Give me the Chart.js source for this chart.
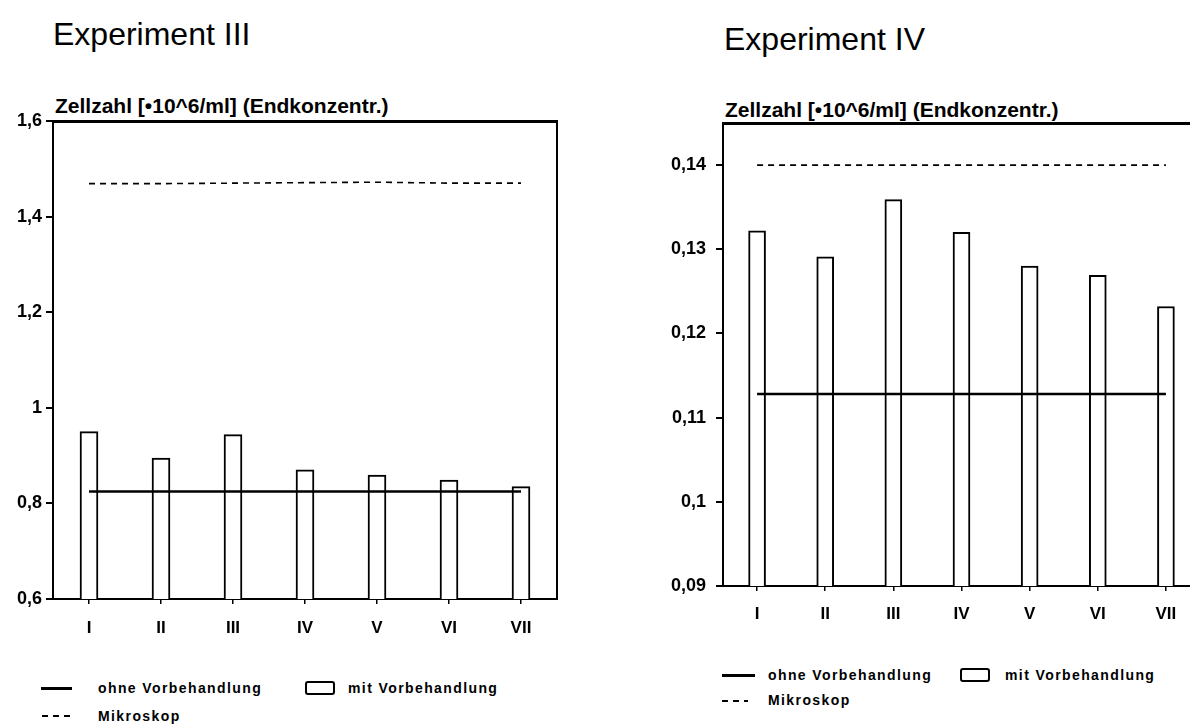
<!DOCTYPE html>
<html>
<head>
<meta charset="utf-8">
<title>Zellzahl – Experiment III und IV</title>
<script src="https://cdn.jsdelivr.net/npm/chart.js@4.4.1/dist/chart.umd.min.js"></script>
<style>
  html, body { margin: 0; padding: 0; background: #fff; overflow: hidden; width: 1190px; height: 724px; }
  body { position: relative; font-family: "Liberation Sans", Arial, Helvetica, sans-serif; color: #000; }
  .t { position: absolute; white-space: nowrap; line-height: 1; }
  .title { font-size: 32px; font-weight: normal; }
  .ytitle { font-size: 21px; font-weight: bold; }
  .leg { font-size: 14px; font-weight: bold; letter-spacing: 1.4px; }
  .plot { position: absolute; }
  .s-line { position: absolute; height: 0; border-top: 3px solid #000; }
  .s-box { position: absolute; box-sizing: border-box; border: 2px solid #000; border-radius: 3px; }
  .s-dash { position: absolute; height: 2px;
            background: repeating-linear-gradient(90deg, #000 0 6px, transparent 6px 11px); }
</style>
</head>
<body>

<!-- Experiment III -->
<div class="t title" style="left:53px; top:18px;">Experiment III</div>
<div class="t ytitle" style="left:55px; top:95px;">Zellzahl [•10^6/ml] (Endkonzentr.)</div>
<div class="plot" style="left:0px; top:0px; width:600px; height:650px;"><canvas id="exp3"></canvas></div>

<div class="s-line" style="left:41px; top:687px; width:31px;"></div>
<div class="t leg" style="left:98px; top:681px;">ohne Vorbehandlung</div>
<div class="s-box" style="left:305px; top:681px; width:30px; height:14px;"></div>
<div class="t leg" style="left:348px; top:681px;">mit Vorbehandlung</div>
<div class="s-dash" style="left:42px; top:715px; width:30px;"></div>
<div class="t leg" style="left:98px; top:709px;">Mikroskop</div>

<!-- Experiment IV -->
<div class="t title" style="left:724px; top:23px;">Experiment IV</div>
<div class="t ytitle" style="left:725px; top:99px;">Zellzahl [•10^6/ml] (Endkonzentr.)</div>
<div class="plot" style="left:600px; top:0px; width:600px; height:650px;"><canvas id="exp4"></canvas></div>

<div class="s-line" style="left:722px; top:674px; width:33px;"></div>
<div class="t leg" style="left:768px; top:668px;">ohne Vorbehandlung</div>
<div class="s-box" style="left:960px; top:668px; width:30px; height:14px;"></div>
<div class="t leg" style="left:1005px; top:668px;">mit Vorbehandlung</div>
<div class="s-dash" style="left:722px; top:700px; width:26px;"></div>
<div class="t leg" style="left:768px; top:693px;">Mikroskop</div>

<script>
// Kategorien (Versuchsansätze)
const categories = ['I', 'II', 'III', 'IV', 'V', 'VI', 'VII'];

// Experiment III – Zellzahl [10^6/ml]
const exp3MitVorbehandlung  = [0.950, 0.895, 0.944, 0.870, 0.859, 0.849, 0.835];
const exp3OhneVorbehandlung = [0.825, 0.825, 0.825, 0.825, 0.825, 0.825, 0.825];
const exp3Mikroskop         = [1.469, 1.469, 1.470, 1.471, 1.472, 1.470, 1.470];
const exp3TickValues = [0.6, 0.8, 1.0, 1.2, 1.4, 1.6];
const exp3TickLabels = ['0,6', '0,8', '1', '1,2', '1,4', '1,6'];

// Experiment IV – Zellzahl [10^6/ml]
const exp4MitVorbehandlung  = [0.1322, 0.1291, 0.1359, 0.1320, 0.1280, 0.1269, 0.1232];
const exp4OhneVorbehandlung = [0.1128, 0.1128, 0.1128, 0.1128, 0.1128, 0.1128, 0.1128];
const exp4Mikroskop         = [0.1400, 0.1400, 0.1400, 0.1400, 0.1400, 0.1400, 0.1400];
const exp4TickValues = [0.09, 0.10, 0.11, 0.12, 0.13, 0.14];
const exp4TickLabels = ['0,09', '0,1', '0,11', '0,12', '0,13', '0,14'];

const INK = '#000';
const tickFont = { family: '"Liberation Sans", Arial, sans-serif', size: 18, weight: 'bold' };
const catFont  = { family: '"Liberation Sans", Arial, sans-serif', size: 17, weight: 'bold' };

function buildChart(id, o) {
  const ctx = document.getElementById(id).getContext('2d');
  const scales = {
    x: {
      type: 'category',
      position: 'bottom',
      offset: true,
      grid: { display: true, drawOnChartArea: false, drawTicks: true, tickLength: 5, lineWidth: 1.5, color: INK, offset: false },
      border: { display: true, width: 2, color: INK },
      ticks: { color: INK, font: catFont, padding: o.xPad, maxRotation: 0, autoSkip: false },
      afterFit: s => { s.height = o.xHeight; }
    },
    y: {
      type: 'linear',
      position: 'left',
      min: o.min,
      max: o.max,
      grid: { display: true, drawOnChartArea: false, drawTicks: true, tickLength: 7, lineWidth: 2, color: INK },
      border: { display: true, width: 2, color: INK },
      ticks: { color: INK, font: tickFont, padding: o.yPad, callback: (v, i) => o.tickLabels[i] },
      afterBuildTicks: s => { s.ticks = o.tickValues.map(v => ({ value: v })); },
      afterFit: s => { s.width = o.yWidth; }
    },
    xTop: {
      type: 'category',
      position: 'top',
      offset: true,
      grid: { display: false },
      ticks: { display: false },
      border: { display: true, width: 3, color: INK },
      afterFit: s => { s.height = 0; }
    }
  };
  if (o.rightFrame) {
    scales.yRight = {
      type: 'linear',
      position: 'right',
      min: o.min,
      max: o.max,
      grid: { display: false },
      ticks: { display: false },
      border: { display: true, width: 2, color: INK },
      afterFit: s => { s.width = 0; }
    };
  }

  return new Chart(ctx, {
    type: 'bar',
    data: {
      labels: categories,
      datasets: [
        {
          type: 'bar',
          label: 'mit Vorbehandlung',
          data: o.mit,
          backgroundColor: '#fff',
          borderColor: INK,
          borderWidth: 2,
          barThickness: o.barThickness,
          order: 3
        },
        {
          type: 'line',
          label: 'ohne Vorbehandlung',
          data: o.ohne,
          borderColor: INK,
          borderWidth: 2.5,
          pointRadius: 0,
          fill: false,
          order: 1
        },
        {
          type: 'line',
          label: 'Mikroskop',
          data: o.mikro,
          borderColor: INK,
          borderWidth: 1.6,
          borderDash: [6, 5],
          pointRadius: 0,
          fill: false,
          order: 2
        }
      ]
    },
    options: {
      responsive: true,
      maintainAspectRatio: false,
      devicePixelRatio: 1,
      animation: false,
      layout: { padding: o.padding },
      plugins: { legend: { display: false }, tooltip: { enabled: false }, title: { display: false } },
      scales
    }
  });
}

// Experiment III: Zeichenfläche x 53..557, y 121..599
buildChart('exp3', {
  mit: exp3MitVorbehandlung, ohne: exp3OhneVorbehandlung, mikro: exp3Mikroskop,
  min: 0.6, max: 1.6, tickValues: exp3TickValues, tickLabels: exp3TickLabels,
  yWidth: 53, xHeight: 40, xPad: 14, yPad: 4, barThickness: 18, rightFrame: true,
  padding: { top: 121, left: 0, right: 43, bottom: 11 }
});

// Experiment IV: Zeichenfläche x 723..1200 (rechts beschnitten), y 123..586
buildChart('exp4', {
  mit: exp4MitVorbehandlung, ohne: exp4OhneVorbehandlung, mikro: exp4Mikroskop,
  min: 0.09, max: 0.145, tickValues: exp4TickValues, tickLabels: exp4TickLabels,
  yWidth: 123, xHeight: 40, xPad: 13, yPad: 10, barThickness: 17, rightFrame: false,
  padding: { top: 123, left: 0, right: 0, bottom: 24 }
});
</script>
</body>
</html>
